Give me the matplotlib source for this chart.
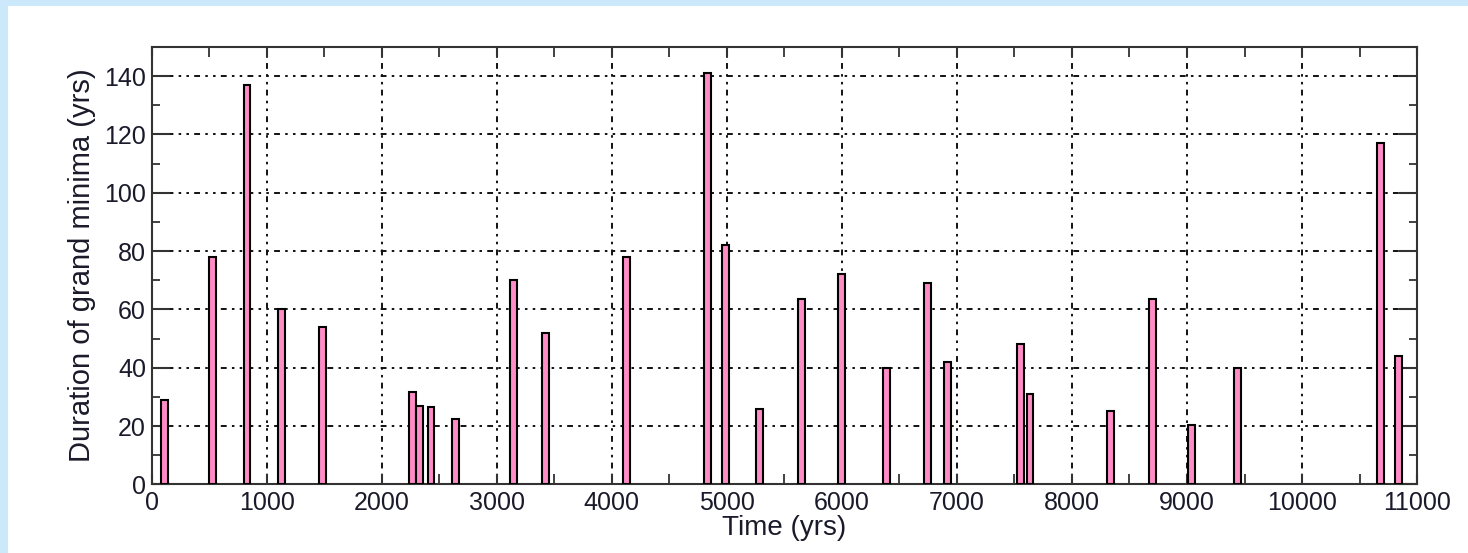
import matplotlib.pyplot as plt
from matplotlib.patches import Rectangle
from matplotlib.ticker import MultipleLocator

# grand minima: start time (yrs) and duration (yrs)
times = [113, 531, 829, 1125, 1488, 2271, 2326, 2428, 2640, 3145, 3420, 4131,
         4833, 4990, 5283, 5651, 5999, 6385, 6748, 6922, 7551, 7635,
         8332, 8700, 9043, 9443, 10681, 10836]
durations = [29, 78, 137, 60, 54, 31.5, 27, 26.5, 22.5, 70, 52, 78,
             141, 82, 26, 63.5, 72, 40, 69, 42, 48, 31,
             25, 63.5, 20.5, 40, 117, 44]

plt.rcParams['font.family'] = ['Liberation Sans', 'DejaVu Sans']

fig = plt.figure(figsize=(14.68, 5.53), dpi=100)
fig.patch.set_facecolor('#cce8fb')
# white panel inside the light blue frame
fig.patches.append(Rectangle((8 / 1468, 0), 1, 1 - 6 / 553, transform=fig.transFigure,
                             facecolor='white', edgecolor='none', zorder=-10))

ax = fig.add_axes([0.1033, 0.1242, 0.8620, 0.7908])
ax.bar(times, durations, width=60, color='#ff8cc6', edgecolor='black',
       linewidth=1.5, zorder=3)

ax.set_xlim(0, 11000)
ax.set_ylim(0, 150)
ax.xaxis.set_major_locator(MultipleLocator(1000))
ax.xaxis.set_minor_locator(MultipleLocator(500))
ax.yaxis.set_major_locator(MultipleLocator(20))
ax.yaxis.set_minor_locator(MultipleLocator(10))

ax.grid(True, which='major', color='#111111',
        linestyle=(0, (1.3, 2.7, 1.3, 2.7, 3, 2.7)), linewidth=1.4, zorder=1)
ax.tick_params(axis='both', which='both', direction='in', top=True, right=True,
               labelsize=18, colors='#333333', labelcolor='#1a1a2a')
ax.tick_params(axis='y', which='major', length=13, width=1.5, pad=4)
ax.tick_params(axis='y', which='minor', length=6, width=1.3)
ax.tick_params(axis='x', which='major', length=7, width=1.5, pad=5)
ax.tick_params(axis='x', which='minor', length=7, width=1.3)
for s in ax.spines.values():
    s.set_linewidth(1.5)
    s.set_color('#333333')

ax.set_xlabel('Time (yrs)', fontsize=20, labelpad=0, color='#1a1a2a')
ax.set_ylabel('Duration of grand minima (yrs)', fontsize=21, labelpad=6, color='#1a1a2a')

fig.savefig('out.png', dpi=100)
